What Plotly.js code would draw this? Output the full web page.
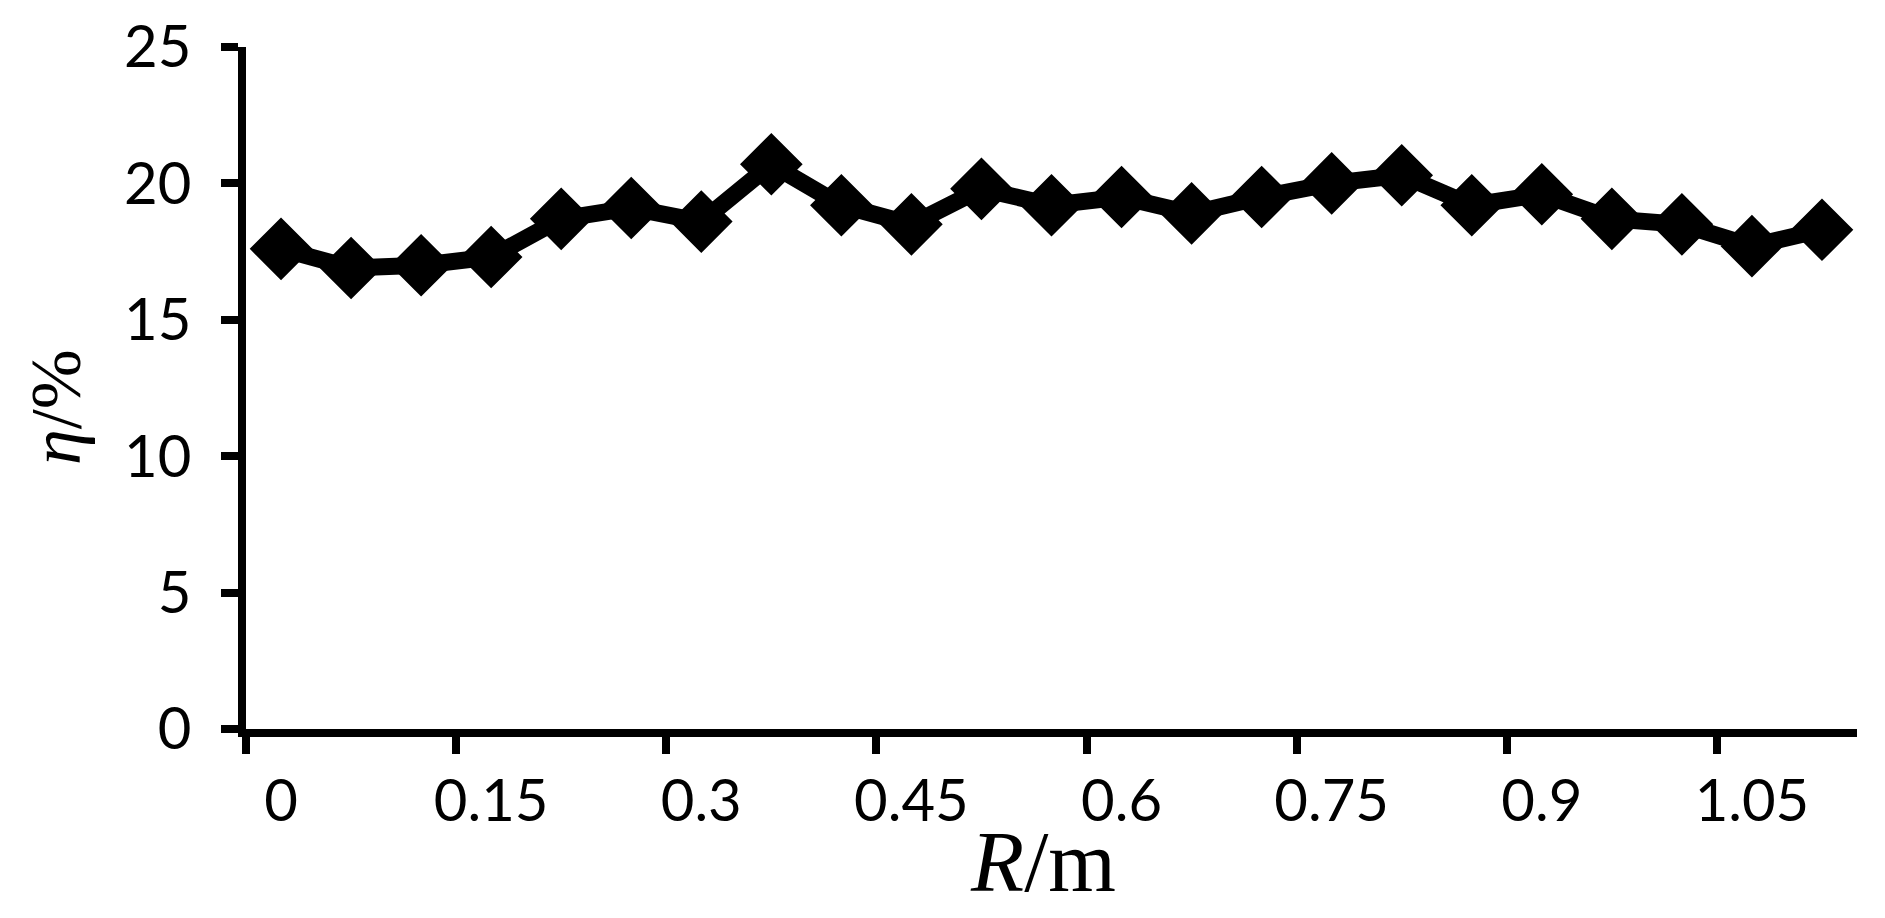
<!DOCTYPE html>
<html>
<head>
<meta charset="utf-8">
<script src="https://cdn.plot.ly/plotly-3.0.1.min.js"></script>
<style>
  html, body { margin: 0; padding: 0; background: #fff; }
  #chart { width: 1885px; height: 918px; }
</style>
</head>
<body>
<div id="chart"></div>
<script>
// Radius R (m) — category axis
const categories = ["0","0.05","0.1","0.15","0.2","0.25","0.3","0.35","0.4","0.45","0.5","0.55",
                    "0.6","0.65","0.7","0.75","0.8","0.85","0.9","0.95","1","1.05","1.1"];
// Efficiency eta (%)
const etaValues = [17.6, 16.9, 17.0, 17.3, 18.7, 19.1, 18.6, 20.7, 19.2, 18.5, 19.8, 19.2,
                   19.5, 18.9, 19.5, 20.0, 20.3, 19.2, 19.6, 18.7, 18.5, 17.7, 18.3];
const yTickVals = [0, 5, 10, 15, 20, 25];

const trace = {
  x: categories,
  y: etaValues,
  type: 'scatter',
  mode: 'lines+markers',
  line: { color: '#000000', width: 17 },
  marker: { symbol: 'diamond', size: 46, color: '#000000', line: { color: '#000000', width: 2 } },
  hoverinfo: 'x+y',
  showlegend: false
};

const tickFont = { family: 'Lato, "Open Sans", sans-serif', size: 58, color: '#000000' };

const layout = {
  width: 1885,
  height: 918,
  margin: { l: 246, r: 28, t: 47, b: 189, pad: 0 },
  paper_bgcolor: '#ffffff',
  plot_bgcolor: '#ffffff',
  showlegend: false,
  xaxis: {
    type: 'category',
    categoryorder: 'array',
    categoryarray: categories,
    range: [-0.5, 22.5],
    tickmode: 'linear',
    tick0: 0,
    dtick: 3,
    tickson: 'boundaries',
    tickangle: 0,
    ticks: 'outside',
    ticklen: 17,
    tickwidth: 8,
    tickcolor: '#000000',
    showline: true,
    linewidth: 8,
    linecolor: '#000000',
    showgrid: false,
    zeroline: false,
    tickfont: tickFont,
    ticklabelstandoff: 14
  },
  yaxis: {
    range: [0, 25],
    tickmode: 'array',
    tickvals: yTickVals,
    ticktext: yTickVals.map(String),
    ticks: 'outside',
    ticklen: 17,
    tickwidth: 8,
    tickcolor: '#000000',
    showline: true,
    linewidth: 8,
    linecolor: '#000000',
    showgrid: false,
    zeroline: false,
    tickfont: tickFont,
    ticklabelstandoff: 18
  },
  annotations: [
    {
      text: '<i>η</i>/%',
      xref: 'paper', yref: 'paper',
      x: -0.118, y: 0.472,
      xanchor: 'center', yanchor: 'middle',
      textangle: -90,
      showarrow: false,
      font: { family: '"Liberation Serif", "Times New Roman", serif', size: 72, color: '#000000' }
    },
    {
      text: '<i>R</i>/m',
      xref: 'paper', yref: 'paper',
      x: 0.495, y: -0.195,
      xanchor: 'center', yanchor: 'middle',
      showarrow: false,
      font: { family: '"Liberation Serif", "Times New Roman", serif', size: 87, color: '#000000' }
    }
  ]
};

Plotly.newPlot('chart', [trace], layout, { displayModeBar: false, staticPlot: true });
</script>
</body>
</html>
